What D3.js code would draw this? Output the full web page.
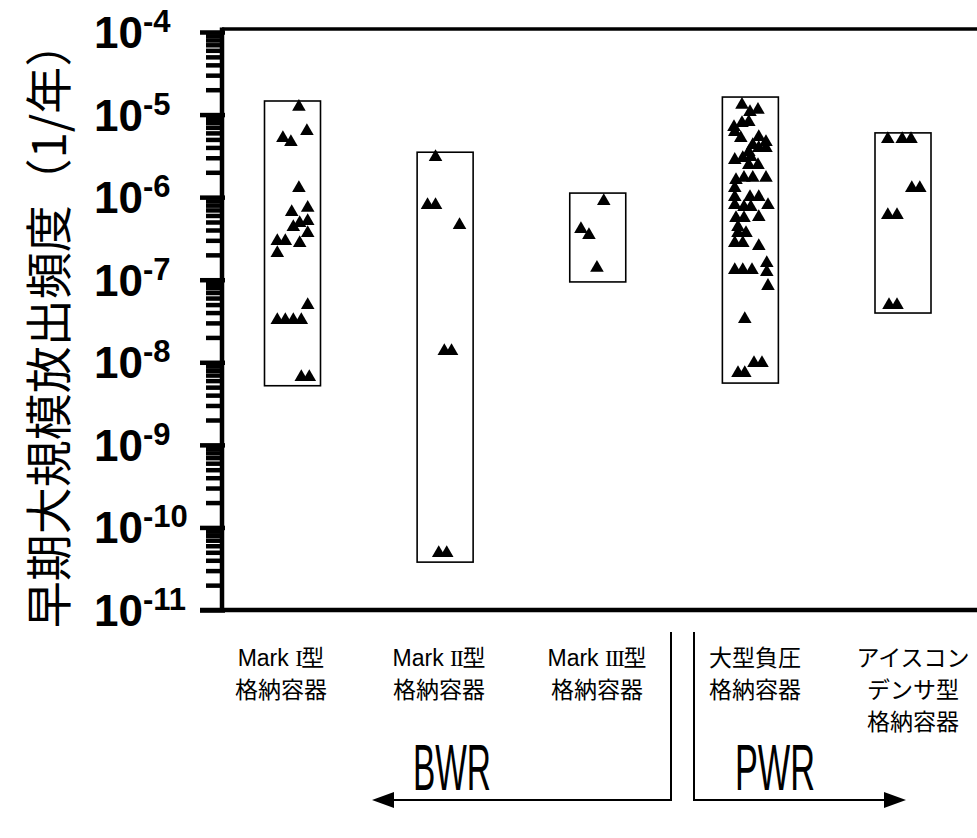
<!DOCTYPE html>
<meta charset="utf-8">
<script src="https://d3js.org/d3.v7.min.js"></script>
<style>
  body { margin: 0; background: #fff; }
  text { fill: #000; }
</style>
<body>
<script>

// containment types (x categories)
var categories = ["MarkI", "MarkII", "MarkIII", "LargeDry", "IceCondenser"];
var categoryLabels = [
  [["Mark ", "I", "型"], ["格納容器"]],
  [["Mark ", "II", "型"], ["格納容器"]],
  [["Mark ", "III", "型"], ["格納容器"]],
  [["大型負圧"], ["格納容器"]],
  [["アイスコン"], ["デンサ型"], ["格納容器"]]
];

// range boxes (low, high) per category
var rangeLow  = [5.2e-9, 3.8e-11, 9.4e-8, 5.6e-9, 3.95e-8];
var rangeHigh = [1.46e-5, 3.5e-6, 1.12e-6, 1.63e-5, 6.0e-6];

// plant results: [frequency, jitter slot]
var markI = [
  [1.24e-5, 0.8], [6.3e-6, 1.8], [5.2e-6, -1.2], [4.65e-6, -0.2], [1.29e-6, 0.8],
  [6.6e-7, -0.1], [7.4e-7, 1.9], [4.35e-7, 0.1], [4.86e-7, 0.9], [5.14e-7, 1.9],
  [3.68e-7, 1.9], [2.94e-7, -1.9], [2.94e-7, -0.9], [2.78e-7, 0.9], [2.1e-7, -1.9],
  [4.94e-8, 1.9], [3.25e-8, -1.9], [3.25e-8, -0.9], [3.25e-8, 0.1], [3.25e-8, 1.1],
  [6.6e-9, 1.1], [6.6e-9, 2.1]
];
var markII = [
  [3.06e-6, -1.2], [8.03e-7, -2.2], [8.03e-7, -1.2], [4.6e-7, 1.8],
  [1.37e-8, -0.1], [1.37e-8, 0.8], [4.9e-11, -0.8], [4.9e-11, 0.2]
];
var markIII = [
  [8.98e-7, 0.75], [4.11e-7, -2.1], [3.48e-7, -1.1], [1.39e-7, -0.1]
];
var largeDry = [
  [1.31e-5, -1.05], [1.07e-5, -0.05], [1.14e-5, 0.95], [7.07e-6, -2.05], [7.9e-6, -1.05],
  [8.13e-6, -0.2], [6.15e-6, -1.95], [5.2e-6, -1.2], [5.35e-6, 1.05], [4.65e-6, 1.95],
  [4.28e-6, 0.3], [3.94e-6, 1.05], [3.94e-6, 1.95], [3.52e-6, -0.2], [2.82e-6, -1.95],
  [2.98e-6, -0.95], [3.06e-6, 0.05], [2.45e-6, -0.2], [2.45e-6, 0.95], [1.61e-6, -1.8],
  [1.71e-6, -0.8], [1.71e-6, 0.3], [1.71e-6, 1.95], [1.29e-6, -1.95], [1.0e-6, -1.95],
  [1.0e-6, -0.05], [1.0e-6, 1.05], [8.03e-7, -1.95], [7.6e-7, -0.8], [7.6e-7, 0.05],
  [8.03e-7, 2.2], [5.75e-7, 1.05], [5.59e-7, -1.8], [5.59e-7, -0.8], [4.35e-7, -1.55],
  [3.68e-7, -1.55], [3.68e-7, -0.55], [2.78e-7, -1.95], [2.78e-7, -0.95], [2.56e-7, 1.05],
  [1.31e-7, -1.95], [1.31e-7, -0.95], [1.31e-7, 0.2], [1.59e-7, 2.05], [1.24e-7, 2.05],
  [8.4e-8, 2.2], [3.34e-8, -0.7], [9.8e-9, 0.45], [9.8e-9, 1.45], [7.4e-9, -1.55],
  [7.4e-9, -0.7]
];
var iceCondenser = [
  [5.06e-6, -1.9], [5.06e-6, -0.1], [5.06e-6, 1.0], [1.29e-6, 1.1], [1.29e-6, 2.1],
  [6.08e-7, -1.9], [6.08e-7, -0.75], [4.94e-8, -1.75], [4.94e-8, -0.75]
];
var pointSets = [markI, markII, markIII, largeDry, iceCondenser];

var majorTicks = [1e-11, 1e-10, 1e-9, 1e-8, 1e-7, 1e-6, 1e-5, 1e-4];
var yTitle = "早期大規模放出頻度（1/年）";

var width = 977, height = 838;
var axisX = 222;

var svg = d3.select("body").append("svg")
  .attr("width", width)
  .attr("height", height);

var y = d3.scaleLog().domain([1e-11, 1e-4]).range([610, 32]);
var x = d3.scalePoint().domain(categories).range([292.5, 903]);
var labelX = d3.scalePoint().domain(categories).range([281, 913]);
var jitter = d3.scaleLinear().domain([0, 1]).range([0, 8]);

// minor ticks
var minorTicks = [];
majorTicks.slice(0, -1).forEach(function(m) {
  for (var k = 2; k <= 9; k++) minorTicks.push(m * k);
});

var minorAxis = d3.axisLeft(y).tickValues(minorTicks).tickSize(16).tickSizeOuter(0).tickFormat("");
var majorAxis = d3.axisLeft(y).tickValues(majorTicks).tickSize(22).tickSizeOuter(0).tickFormat("");

var gMinor = svg.append("g").attr("transform", `translate(${axisX},0)`).call(minorAxis);
var gMajor = svg.append("g").attr("transform", `translate(${axisX + 3},0)`).call(majorAxis);
gMinor.selectAll("line").attr("stroke", "#000").attr("stroke-width", 4.5);
gMajor.selectAll("line").attr("stroke", "#000").attr("stroke-width", 4.5).attr("x2", -25);
gMinor.select(".domain").remove();
gMajor.select(".domain").remove();

// frame
var frameTop = y(1e-4) - 3;
svg.append("line").attr("x1", axisX).attr("x2", axisX)
  .attr("y1", frameTop - 1.5).attr("y2", y(1e-11) + 2)
  .attr("stroke", "#000").attr("stroke-width", 4.5);
svg.append("line").attr("x1", axisX).attr("x2", width)
  .attr("y1", frameTop).attr("y2", frameTop)
  .attr("stroke", "#000").attr("stroke-width", 3.5);
svg.append("line").attr("x1", 200).attr("x2", width)
  .attr("y1", y(1e-11)).attr("y2", y(1e-11))
  .attr("stroke", "#000").attr("stroke-width", 4.5);

// tick labels 10^n
var tickLabels = svg.append("g")
  .attr("font-family", "'Liberation Sans', Arial, sans-serif")
  .attr("font-weight", "bold");
majorTicks.forEach(function(v) {
  var t = tickLabels.append("text")
    .attr("x", 94)
    .attr("y", y(v) + 16)
    .attr("font-size", 44);
  t.append("tspan").text("10");
  t.append("tspan").attr("font-size", 31).attr("dy", -16)
    .text("-" + Math.round(-Math.log10(v)));
});

// y title
svg.append("text")
  .attr("transform", "translate(45," + ((y(1e-4) + y(1e-11)) / 2 + 3) + ") rotate(-90)")
  .attr("text-anchor", "middle")
  .attr("dominant-baseline", "central")
  .attr("font-family", "'Noto Sans CJK JP', sans-serif")
  .attr("font-size", 47)
  .text(yTitle);

// range boxes
svg.selectAll(".range")
  .data(categories)
  .enter().append("rect")
  .attr("class", "range")
  .attr("x", function(d) { return x(d) - 28; })
  .attr("y", function(d, i) { return y(rangeHigh[i]); })
  .attr("width", 56)
  .attr("height", function(d, i) { return y(rangeLow[i]) - y(rangeHigh[i]); })
  .attr("fill", "none")
  .attr("stroke", "#000")
  .attr("stroke-width", 1.6);

// triangles
var tri = d3.symbol().type(d3.symbolTriangle).size(80);
categories.forEach(function(c, i) {
  svg.append("g").selectAll("path")
    .data(pointSets[i])
    .enter().append("path")
    .attr("d", tri)
    .attr("transform", function(d) {
      return "translate(" + (x(c) + jitter(d[1])) + "," + y(d[0]) + ")";
    })
    .attr("fill", "#000");
});

// category labels
var catFont = "'Liberation Sans', Arial, 'Noto Sans CJK JP', sans-serif";
categoryLabels.forEach(function(lines, i) {
  lines.forEach(function(parts, j) {
    var t = svg.append("text")
      .attr("x", labelX(categories[i]))
      .attr("y", 666 + j * 32)
      .attr("text-anchor", "middle")
      .attr("font-family", catFont)
      .attr("font-size", 23);
    parts.forEach(function(p, k) {
      var s = t.append("tspan").text(p);
      if (k === 1) s.attr("font-family", "'Liberation Serif', 'DejaVu Serif', serif")
        .attr("letter-spacing", -1.5);
    });
  });
});

// BWR / PWR groups
var groupFont = "'Liberation Sans', Arial, sans-serif";
svg.append("text").attr("x", 413).attr("y", 790)
  .attr("font-family", groupFont).attr("font-size", 64)
  .attr("textLength", 78).attr("lengthAdjust", "spacingAndGlyphs").text("BWR");
svg.append("text").attr("x", 735).attr("y", 790)
  .attr("font-family", groupFont).attr("font-size", 64)
  .attr("textLength", 80).attr("lengthAdjust", "spacingAndGlyphs").text("PWR");

svg.append("path")
  .attr("d", "M671,632 L671,800 L388,800")
  .attr("fill", "none").attr("stroke", "#000").attr("stroke-width", 2);
svg.append("path")
  .attr("d", "M372,800 L394,792 L394,808 Z").attr("fill", "#000");
svg.append("path")
  .attr("d", "M694,632 L694,800 L890,800")
  .attr("fill", "none").attr("stroke", "#000").attr("stroke-width", 2);
svg.append("path")
  .attr("d", "M906,800 L884,792 L884,808 Z").attr("fill", "#000");

</script>
</body>
